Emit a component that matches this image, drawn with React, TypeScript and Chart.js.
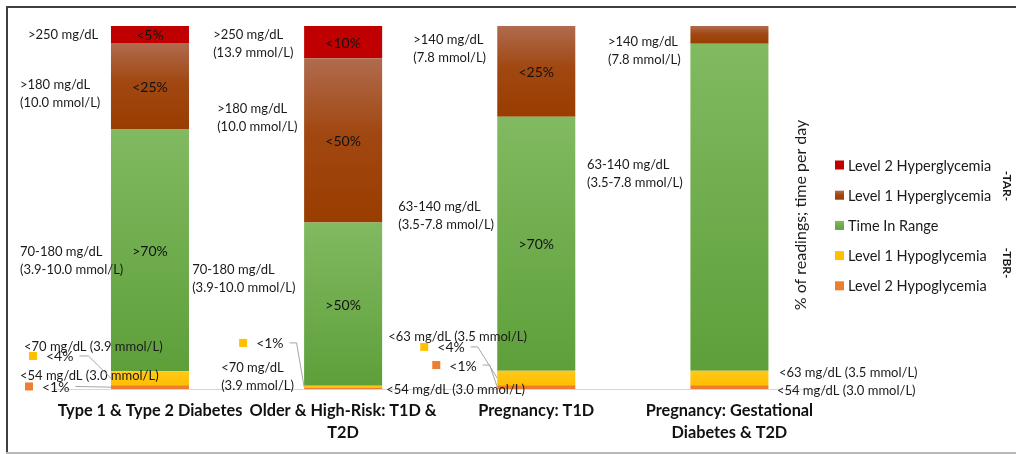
import React, { useEffect, useRef } from "react";
import { Chart, registerables } from "chart.js";

Chart.register(...registerables);

// ---------------- data ----------------
const categories: string[][] = [
  ["Type 1 & Type 2 Diabetes"],
  ["Older & High-Risk: T1D &", "T2D"],
  ["Pregnancy: T1D"],
  ["Pregnancy: Gestational", "Diabetes & T2D"],
];

const seriesNames = [
  "Level 2 Hypoglycemia",
  "Level 1 Hypoglycemia",
  "Time In Range",
  "Level 1 Hyperglycemia",
  "Level 2 Hyperglycemia",
];

// % of readings (stacked bottom -> top)
const level2Hypo = [1.0, 0.3, 1.0, 1.0];
const level1Hypo = [3.9, 0.6, 4.0, 4.0];
const timeInRange = [66.7, 45.0, 70.0, 90.1];
const level1Hyper = [23.7, 45.2, 25.0, 4.9];
const level2Hyper = [4.7, 8.9, 0, 0];

// labels written inside the segments
const level2HypoLabels = ["", "", "", ""];
const level1HypoLabels = ["", "", "", ""];
const timeInRangeLabels = [">70%", ">50%", ">70%", ""];
const level1HyperLabels = ["<25%", "<50%", "<25%", ""];
const level2HyperLabels = ["<5%", "<10%", "", ""];

const yTitle = "% of readings; time per day";
const sideTags = ["-TAR-", "-TBR-"];

// threshold notes beside the bars: category, offset from category centre (px), y value (%)
const thresholdNotes = [
  { cat: 0, dx: -122, v: 97.5, lines: [">250 mg/dL"] },
  { cat: 0, dx: -130, v: 83.7, lines: [">180 mg/dL", "(10.0 mmol/L)"] },
  { cat: 0, dx: -130, v: 37.7, lines: ["70-180 mg/dL", "(3.9-10.0 mmol/L)"] },
  { cat: 0, dx: -126, v: 11.6, lines: ["<70 mg/dL (3.9 mmol/L)"] },
  { cat: 0, dx: -130, v: 3.6, lines: ["<54 mg/dL (3.0 mmol/L)"] },
  { cat: 1, dx: -130, v: 97.5, lines: [">250 mg/dL", "(13.9 mmol/L)"] },
  { cat: 1, dx: -126, v: 77.1, lines: [">180 mg/dL", "(10.0 mmol/L)"] },
  { cat: 1, dx: -151, v: 32.8, lines: ["70-180 mg/dL", "(3.9-10.0 mmol/L)"] },
  { cat: 1, dx: -122, v: 5.8, lines: ["<70 mg/dL", "(3.9 mmol/L)"] },
  { cat: 2, dx: -123, v: 96.1, lines: [">140 mg/dL", "(7.8 mmol/L)"] },
  { cat: 2, dx: -138, v: 50.1, lines: ["63-140 mg/dL", "(3.5-7.8 mmol/L)"] },
  { cat: 2, dx: -148, v: 14.3, lines: ["<63 mg/dL (3.5 mmol/L)"] },
  { cat: 2, dx: -150, v: -0.3, lines: ["<54 mg/dL (3.0 mmol/L)"] },
  { cat: 3, dx: -121.5, v: 95.6, lines: [">140 mg/dL", "(7.8 mmol/L)"] },
  { cat: 3, dx: -142.5, v: 61.7, lines: ["63-140 mg/dL", "(3.5-7.8 mmol/L)"] },
  { cat: 3, dx: 49.5, v: 4.4, lines: ["<63 mg/dL (3.5 mmol/L)"] },
  { cat: 3, dx: 47.5, v: -0.55, lines: ["<54 mg/dL (3.0 mmol/L)"] },
];

// small callouts pointing at the thin hypo segments
const callouts = [
  { cat: 0, ds: 1, dx: -121, v: 9.1, text: "<4%", stub: 9 },
  { cat: 0, ds: 0, dx: -125, v: 0.7, text: "<1%", stub: 0 },
  { cat: 1, ds: 1, dx: -104, v: 12.7, text: "<1%", stub: 7 },
  { cat: 2, ds: 1, dx: -116, v: 11.6, text: "<4%", stub: 7 },
  { cat: 2, ds: 0, dx: -104, v: 6.6, text: "<1%", stub: 7 },
];

// ---------------- styles ----------------
const FONT = "Lato, 'Open Sans', sans-serif";
const RED = "#c00000";
const ORANGE = "#ed7d31";
const YELLOW = "#ffc000";
const BROWN_STOPS: [number, string][] = [
  [0, "#b06b4e"],
  [0.45, "#a14812"],
  [1, "#993d00"],
];
const GREEN_STOPS: [number, string][] = [
  [0, "#81ba61"],
  [1, "#5e9f3a"],
];
const YELLOW_STOPS: [number, string][] = [
  [0, "#ffc819"],
  [1, "#ffbf00"],
];
const legendSwatch = [ORANGE, YELLOW, "#6aad47", "#a24a1a", RED];

function gradientFill(stops: [number, string][]) {
  return (ctx: any) => {
    const chart = ctx.chart;
    const fallback = stops[stops.length - 1][1];
    if (ctx.type !== "data" || !chart.chartArea) return fallback;
    const yScale = chart.scales.y;
    const i = ctx.dataIndex;
    const di = ctx.datasetIndex;
    let base = 0;
    for (let k = 0; k < di; k++) base += Number(chart.data.datasets[k].data[i]) || 0;
    const val = Number(chart.data.datasets[di].data[i]) || 0;
    const top = yScale.getPixelForValue(base + val);
    const bottom = yScale.getPixelForValue(base);
    if (!(bottom - top > 0.5)) return fallback;
    const g = chart.ctx.createLinearGradient(0, top, 0, bottom);
    for (const [o, c] of stops) g.addColorStop(o, c);
    return g;
  };
}

const segmentLabels = [
  level2HypoLabels,
  level1HypoLabels,
  timeInRangeLabels,
  level1HyperLabels,
  level2HyperLabels,
];

const framePlugin = {
  id: "frame",
  beforeDraw(chart: any) {
    const { ctx, width, height } = chart;
    ctx.save();
    ctx.fillStyle = "#ffffff";
    ctx.fillRect(0, 0, width, height);
    ctx.fillStyle = "#404040";
    ctx.fillRect(6, 6, width - 6, 2);
    ctx.fillRect(6, 6, 2, height - 8);
    ctx.fillStyle = "#b8b8b8";
    ctx.fillRect(6, height - 2, width - 6, 2);
    ctx.restore();
  },
};

const notesPlugin = {
  id: "notes",
  afterDatasetsDraw(chart: any) {
    const { ctx } = chart;
    const xScale = chart.scales.x;
    const yScale = chart.scales.y;
    ctx.save();

    // labels inside segments
    ctx.font = `14px ${FONT}`;
    ctx.fillStyle = "#111";
    ctx.textAlign = "center";
    ctx.textBaseline = "middle";
    segmentLabels.forEach((arr, di) => {
      const meta = chart.getDatasetMeta(di);
      arr.forEach((lab, i) => {
        if (!lab) return;
        const el = meta.data[i];
        const { x, y, base } = el.getProps(["x", "y", "base"], true);
        ctx.fillText(lab, x, (y + base) / 2 + 1);
      });
    });

    // threshold notes
    ctx.font = `13px ${FONT}`;
    ctx.fillStyle = "#1a1a1a";
    ctx.textAlign = "left";
    for (const n of thresholdNotes) {
      const x = xScale.getPixelForValue(n.cat) + n.dx;
      const y0 = yScale.getPixelForValue(n.v);
      n.lines.forEach((t, k) => ctx.fillText(t, x, y0 + k * 17.5));
    }

    // callouts with leader lines
    for (const c of callouts) {
      const x = xScale.getPixelForValue(c.cat) + c.dx;
      const y = yScale.getPixelForValue(c.v);
      ctx.fillStyle = c.ds === 0 ? ORANGE : YELLOW;
      ctx.fillRect(x, y - 4, 8, 8);
      ctx.font = `14px ${FONT}`;
      ctx.fillStyle = "#1a1a1a";
      ctx.fillText(c.text, x + 17, y + 1);
      const tw = ctx.measureText(c.text).width;
      const el = chart.getDatasetMeta(c.ds).data[c.cat];
      const p = el.getProps(["x", "y", "base", "width"], true);
      const ex = p.x - p.width / 2;
      const ey = (p.y + p.base) / 2;
      const sx = x + 17 + tw + 6;
      ctx.strokeStyle = "#a6a6a6";
      ctx.lineWidth = 1;
      ctx.beginPath();
      ctx.moveTo(sx, y);
      ctx.lineTo(sx + c.stub, y);
      ctx.lineTo(ex, ey);
      ctx.stroke();
    }

    // y title (rotated)
    ctx.save();
    ctx.translate(801, 215);
    ctx.rotate(-Math.PI / 2);
    ctx.font = `16px ${FONT}`;
    ctx.fillStyle = "#1a1a1a";
    ctx.textAlign = "center";
    ctx.textBaseline = "middle";
    ctx.fillText(yTitle, 0, 0);
    ctx.restore();

    // legend (top = last series)
    ctx.font = `14.5px ${FONT}`;
    ctx.textAlign = "left";
    ctx.textBaseline = "middle";
    const order = seriesNames.map((_, i) => i).reverse();
    order.forEach((di, k) => {
      const y = 165 + k * 30.2;
      const col = legendSwatch[di];
      if (di === 3) {
        const g = ctx.createLinearGradient(0, y - 4.5, 0, y + 4.5);
        BROWN_STOPS.forEach(([o, c]) => g.addColorStop(o, c));
        ctx.fillStyle = g;
      } else if (di === 2) {
        const g = ctx.createLinearGradient(0, y - 4.5, 0, y + 4.5);
        GREEN_STOPS.forEach(([o, c]) => g.addColorStop(o, c));
        ctx.fillStyle = g;
      } else {
        ctx.fillStyle = col;
      }
      ctx.fillRect(835, y - 4.5, 9, 9);
      ctx.fillStyle = "#1a1a1a";
      ctx.fillText(chart.data.datasets[di].label, 848, y + 1);
    });

    // side tags
    ctx.font = `bold 12px ${FONT}`;
    ctx.fillStyle = "#1a1a1a";
    ctx.textAlign = "center";
    [186, 263].forEach((yy, k) => {
      ctx.save();
      ctx.translate(1007, yy);
      ctx.rotate(Math.PI / 2);
      ctx.fillText(sideTags[k], 0, 0);
      ctx.restore();
    });

    ctx.restore();
  },
};

export default function App() {
  const ref = useRef<HTMLCanvasElement | null>(null);

  useEffect(() => {
    document.body.style.margin = "0";
    const canvas = ref.current;
    if (!canvas) return;
    const chart = new Chart(canvas, {
      type: "bar",
      data: {
        labels: categories as any,
        datasets: [
          { label: seriesNames[0], data: level2Hypo, backgroundColor: ORANGE },
          { label: seriesNames[1], data: level1Hypo, backgroundColor: gradientFill(YELLOW_STOPS) },
          { label: seriesNames[2], data: timeInRange, backgroundColor: gradientFill(GREEN_STOPS) },
          { label: seriesNames[3], data: level1Hyper, backgroundColor: gradientFill(BROWN_STOPS) },
          { label: seriesNames[4], data: level2Hyper, backgroundColor: RED },
        ].map((d) => ({ ...d, borderWidth: 0, barPercentage: 0.404, categoryPercentage: 1 })),
      },
      options: {
        responsive: false,
        animation: false,
        devicePixelRatio: 1,
        layout: { padding: { left: 53.4, right: 190, top: 26, bottom: 0 } },
        plugins: {
          legend: { display: false },
          tooltip: { enabled: false },
        },
        scales: {
          x: {
            stacked: true,
            grid: { display: false, drawTicks: false },
            border: { display: true, color: "#d6d6d6", width: 1 },
            ticks: {
              color: "#111",
              padding: 11,
              maxRotation: 0,
              autoSkip: false,
              font: { family: FONT, size: 16.3, weight: "bold", lineHeight: 1.32 },
            },
            afterFit: (s: any) => {
              s.height = 65;
            },
          },
          y: {
            stacked: true,
            display: false,
            min: 0,
            max: 100,
          },
        },
      },
      plugins: [framePlugin, notesPlugin],
    });
    return () => chart.destroy();
  }, []);

  return <canvas ref={ref} width={1016} height={454} style={{ display: "block" }} />;
}
